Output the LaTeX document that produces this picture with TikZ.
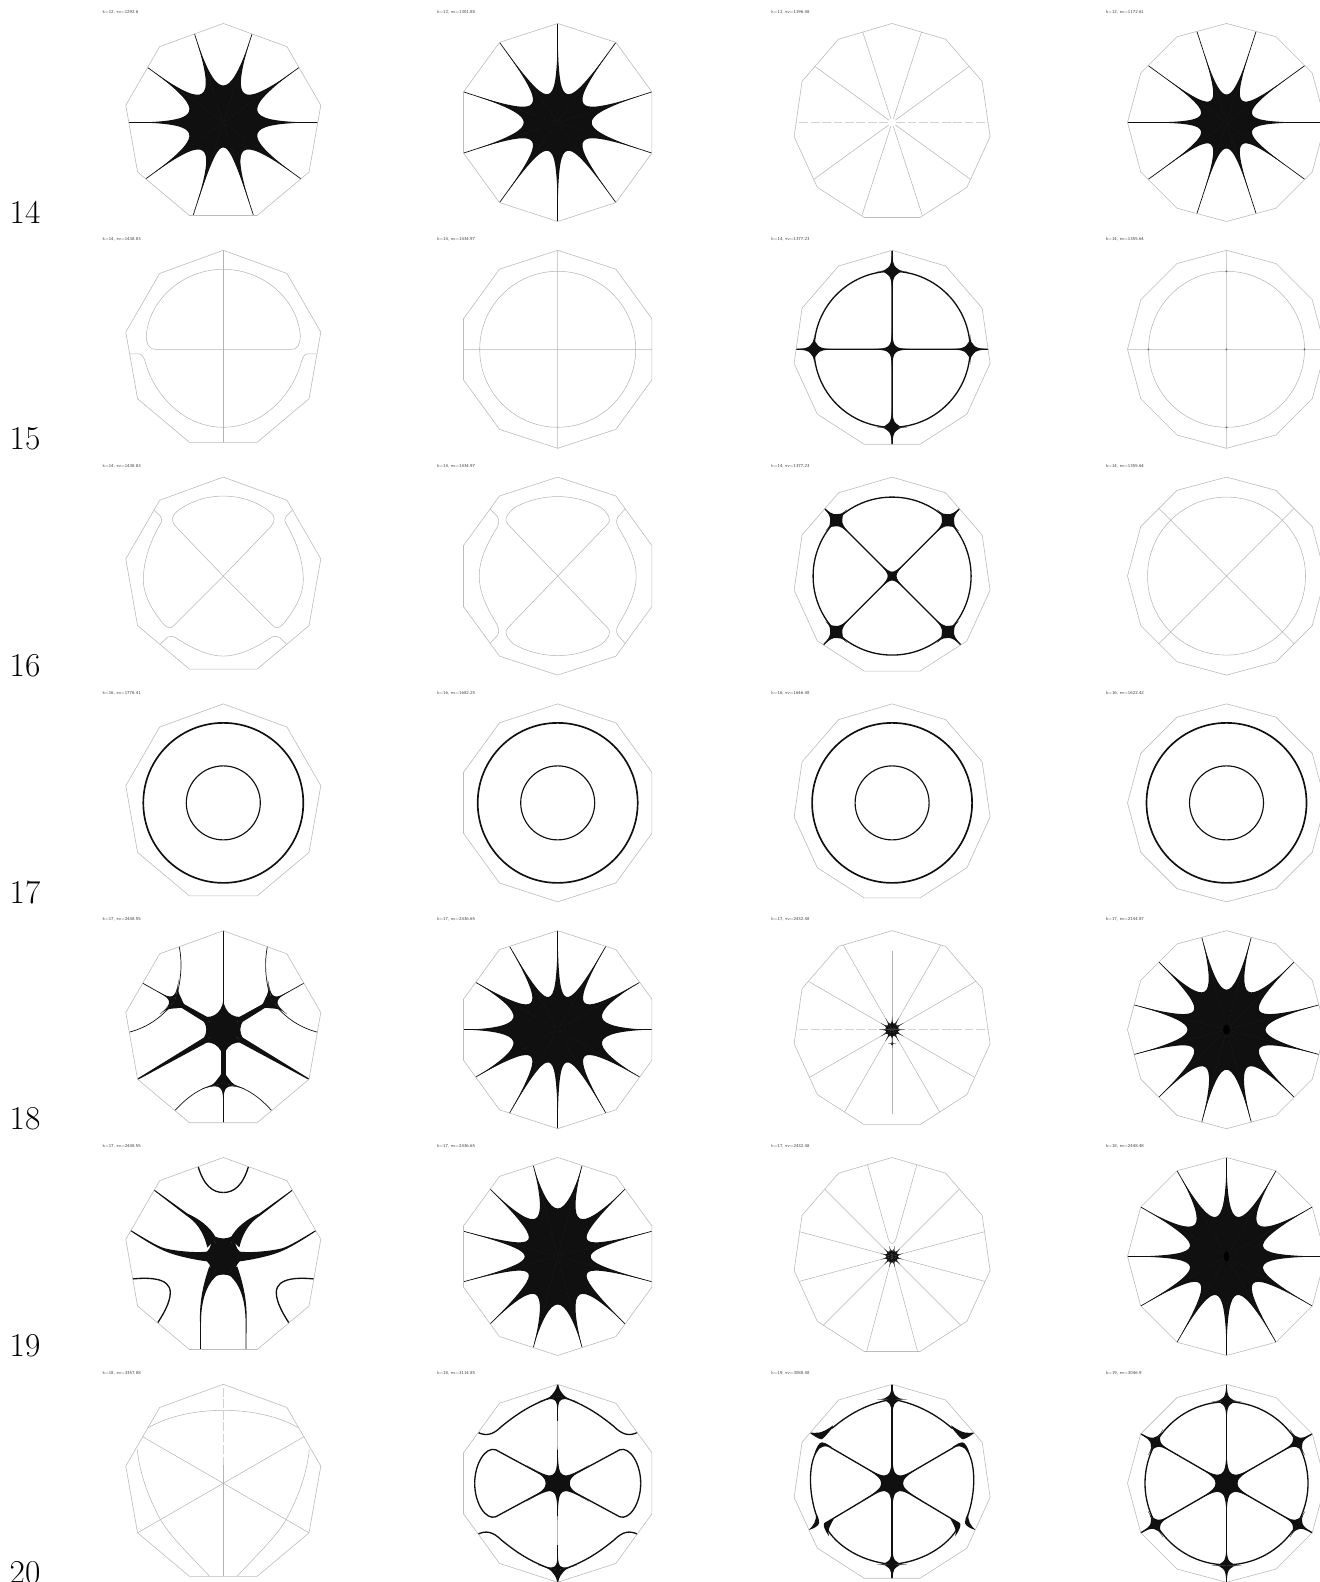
\documentclass[tikz,border=0pt]{standalone}
\usepackage{tikz}
\usetikzlibrary{positioning}
\definecolor{ink}{RGB}{16,16,16}
\definecolor{rimgray}{RGB}{188,188,188}
\definecolor{hairgray}{RGB}{180,180,180}
\tikzset{
  tag/.style={font=\sffamily\fontsize{2.6}{3}\selectfont,anchor=west,inner sep=0pt,text=black!75},
  rowlab/.style={font=\fontsize{19}{19}\selectfont,anchor=base,inner sep=0pt},
  rim/.style={draw=rimgray,line width=0.35pt},
  hair/.style={draw=hairgray,line width=0.3pt},
  faint/.style={draw=hairgray!60,line width=0.3pt,dash pattern=on 5pt off 1.5pt},
  fine/.style={draw=ink,line width=0.4pt},
  bold/.style={draw=ink,line width=0.75pt}
}
\begin{document}
\begin{tikzpicture}[x=0.02cm,y=0.02cm]
\useasboundingbox (0,0) rectangle (1319,1582);
% Helper macro: \lobe{arm}{next arm}{valley radius}{tip of arm}{tip of next arm}
\newcommand{\lobe}[5]{%
  \pgfmathsetmacro{\lobemid}{(#1+#2)/2}
  \pgfmathsetmacro{\lobedlt}{(#2-#1)*0.32}
  \pgfmathsetmacro{\lobeval}{#3/cos(\lobedlt)}
  \fill[ink] (0,0) -- (#1:#4) .. controls ({#1+1}:{#3*1.4}) and ({\lobemid-\lobedlt}:\lobeval)
    .. (\lobemid:#3) .. controls ({\lobemid+\lobedlt}:\lobeval) and ({#2-1}:{#3*1.4}) .. (#2:#5) -- cycle;
}
% Helper macro: \ringstar{centre}{arms}{first arm}{tip radius}{valley radii}
\newcommand{\ringstar}[5]{%
  \begin{scope}[shift={(#1)}]
    \foreach \vrad [count=\k from 0] in {#5} {
      \pgfmathsetmacro{\armA}{#3+\k*360/#2}
      \pgfmathsetmacro{\armB}{\armA+360/#2}
      \lobe{\armA}{\armB}{\vrad}{#4}{#4}
    }
  \end{scope}
}
% Helper macro: \spokes{arms}{first arm}
\newcommand{\spokes}[2]{%
  \foreach \k in {1,...,#1} { \draw[fine] (0,0) -- ({#2+\k*360/#1}:115); }
}
% Helper macro: \jstar{angle}{radius}{valley}: four arms where a spoke meets the ring
\newcommand{\jstar}[3]{%
  \begin{scope}[shift={(#1:#2)},rotate=#1]
    \lobe{0}{90}{#3}{26}{15}
    \lobe{90}{180}{#3}{15}{26}
    \lobe{180}{270}{#3}{26}{15}
    \lobe{270}{360}{#3}{15}{26}
  \end{scope}
}
% Helper macro: \pcell{column}{row}{title}{content}
\newcommand{\pcell}[4]{%
  \pgfmathtruncatemacro{\sides}{9+#1}
  \begin{scope}[shift={(223.3+#1*334.4, 1459.5-#2*226.8)}]
    \node[tag] (tag#1#2) at (-121, 110) {#3};
    \begin{scope}
      \clip (90:99) \foreach \k in {1,...,\sides} { -- ({90+\k*360/\sides}:99) } -- cycle;
      #4
    \end{scope}
    \draw[rim] (90:99) \foreach \k in {1,...,\sides} { -- ({90+\k*360/\sides}:99) } -- cycle;
  \end{scope}
}

% Row 14
\pcell{0}{0}{k=12, ev=1292.6}{\spokes{10}{0}\ringstar{0,0}{10}{0}{84}{36,36,37,36,36,36,35,25,35,36}}
\pcell{1}{0}{k=12, ev=1301.88}{\spokes{10}{18}\ringstar{0,0}{10}{18}{84}{32,30,30,32,34,32,30,30,32,34}}
\pcell{2}{0}{k=12, ev=1196.48}{
  \foreach \a in {36,72,108,144,216,252,288,324} { \draw[hair] (\a:4) -- (\a:115); }
  \draw[faint] (4,0) -- (115,0) (-4,0) -- (-115,0);
}
\pcell{3}{0}{k=12, ev=1172.61}{\spokes{10}{0}\ringstar{0,0}{10}{0}{72}{27,27,28,27,27,27,27,26,27,27}}

% Row 15
\pcell{0}{1}{k=14, ev=1438.83}{
  \draw[hair] (0,-110) -- (0,110);
  \foreach \m in {1,-1} {
    \begin{scope}[xscale=\m]
      \draw[hair] (0,0) -- (68,0) .. controls (75,0) and (77,6) .. (77,14)
        .. controls (74,50) and (40,80) .. (0,80);
      \draw[hair] (95,-4.5) -- (85,-4.5) .. controls (81,-4.5) and (79.5,-8) .. (78,-13)
        .. controls (68,-48) and (38,-78) .. (0,-78);
    \end{scope}
  }
}
\pcell{1}{1}{k=14, ev=1434.97}{
  \draw[hair] (0,0) circle (78) (0,-110) -- (0,110) (-110,0) -- (110,0);
}
\pcell{2}{1}{k=14, ev=1377.23}{
  \draw[bold] (0,0) circle (78) (0,-110) -- (0,110) (-110,0) -- (110,0);
  \ringstar{0,0}{4}{0}{30}{5,5,5,5}
  \foreach \a in {0,90,180,270} { \jstar{\a}{78}{5.5} }
}
\pcell{3}{1}{k=14, ev=1355.64}{
  \draw[hair] (0,0) circle (78) (0,-110) -- (0,110) (-110,0) -- (110,0);
  \foreach \a in {0,90,180,270} { \fill[black!60] (\a:78) circle (1); }
  \fill[black!60] (0,0) circle (1);
}

% Row 16
\pcell{0}{2}{k=14, ev=1438.83}{
  \foreach \m in {1,-1} {
    \begin{scope}[xscale=\m]
      \draw[hair] (0,0) -- (48,50) .. controls (52,55) and (52,60) .. (47,64)
        .. controls (35,74) and (18,80) .. (0,80);
      \draw[hair] (0,0) -- (49,-49) .. controls (52,-53) and (57,-53) .. (63,-44)
        .. controls (74,-30) and (80,-16) .. (80,-4) .. controls (80,15) and (73,35) .. (63,52)
        .. controls (61,55) and (61,58) .. (63,60) -- (75,72);
      \draw[hair] (68,-73) -- (56,-61) .. controls (53,-59.5) and (50,-60) .. (47,-62)
        .. controls (32,-72) and (15,-80) .. (0,-80);
    \end{scope}
  }
}
\pcell{1}{2}{k=14, ev=1434.97}{
  \foreach \m in {1,-1} { \foreach \n in {1,-1} {
    \begin{scope}[xscale=\m,yscale=\n]
      \draw[hair] (0,0) -- (50,52) .. controls (53,55) and (53,60) .. (44,68)
        .. controls (32,75) and (16,79.5) .. (0,79.5);
      \draw[hair] (72,72) -- (60,59) .. controls (58,55) and (59,52) .. (61,48)
        .. controls (72,30) and (78.5,15) .. (78.5,0);
    \end{scope}
  } }
}
\pcell{2}{2}{k=14, ev=1377.23}{
  \draw[bold] (0,0) circle (79) (-110,-110) -- (110,110) (-110,110) -- (110,-110);
  \ringstar{0,0}{4}{45}{28}{4.5,4.5,4.5,4.5}
  \foreach \a in {45,135,225,315} { \jstar{\a}{79}{6} }
}
\pcell{3}{2}{k=14, ev=1355.64}{
  \draw[hair] (0,0) circle (79) (-110,-110) -- (110,110) (-110,110) -- (110,-110);
}

% Row 17
\foreach \c/\t in {0/1776.41,1/1682.25,2/1646.48,3/1622.42} {
  \pcell{\c}{3}{k=16, ev=\t}{
    \draw[draw=ink,line width=0.95pt] (0,0) circle (80);
    \draw[draw=ink,line width=0.65pt] (0,0) circle (37);
  }
}

% Row 18
\pcell{0}{4}{k=17, ev=2448.55}{
  \draw[fine] (0,-110) -- (0,110);
  \ringstar{0,0}{6}{30}{30}{17,17,17,17,17,17}
  \fill[ink] (0,0) circle (15);
  \fill[ink] (-2.7,0) rectangle (2.7,-53);
  \foreach \m in {1,-1} {
    \begin{scope}[xscale=\m]
      \fill[ink] (14,11.6) -- (47.3,30) -- (49.3,26.6) -- (17,6.4) -- cycle;
      \fill[ink] (17,-6.4) -- (90.2,-51.6) -- (89.8,-52.4) -- (14,-11.6) -- cycle;
      \draw[fine] (48.3,28.3) .. controls (43,45) and (40,65) .. (44.5,85);
      \draw[fine] (48.3,28.3) -- (85,49);
      \draw[fine] (48.3,28.3) .. controls (60,15) and (72,3) .. (96,-3);
      \draw[fine] (0,-53.3) .. controls (20,-56) and (35,-65) .. (52,-85);
      \begin{scope}[shift={(48.3,28.3)}]
        \lobe{-40}{30}{6}{20}{20}
        \lobe{30}{100}{6}{20}{22}
        \lobe{100}{210}{7}{22}{20}
        \lobe{210}{320}{7}{20}{20}
      \end{scope}
      \begin{scope}[shift={(0,-53.3)}]
        \lobe{-90}{-15}{6}{22}{22}
        \lobe{-15}{90}{7}{22}{20}
      \end{scope}
    \end{scope}
  }
}
\pcell{1}{4}{k=17, ev=2436.65}{\spokes{12}{0}\ringstar{0,0}{12}{0}{90}{46,38,34,34,38,46,46,38,34,34,38,46}}
\pcell{2}{4}{k=17, ev=2432.48}{
  \foreach \a in {30,60,120,150,210,240,300,330} { \draw[hair] (\a:4) -- (\a:115); }
  \draw[faint] (4,0) -- (115,0) (-4,0) -- (-115,0);
  \draw[hair] (0,79) -- (0,4) (0,-4) -- (0,-84);
  \ringstar{0,0}{12}{0}{13}{6,6,6,6,6,6,6,6,6,6,6,6}
  \ringstar{0,-14}{4}{0}{4}{1,1,1,1}
}
\pcell{3}{4}{k=17, ev=2144.87}{
  \spokes{12}{15}
  \ringstar{0,0}{12}{15}{90}{38,44,40,44,38,39,38,43,40,43,38,39}
  \fill[black] (0,0) ellipse (3.5 and 5);
}

% Row 19
\pcell{0}{5}{k=17, ev=2448.55}{
  \ringstar{0,0}{6}{0}{26}{16,18,16,16,18,16}
  \fill[ink] (0,0) circle (15);
  \foreach \m in {1,-1} {
    \begin{scope}[xscale=\m]
      \fill[ink] (7,18) .. controls (13,30) and (25,38) .. (36,43) -- (72,69)
        -- (72,68) -- (37,41) .. controls (28,35) and (20,26) .. (16,9) -- cycle;
      \fill[ink] (15,5) .. controls (25,3.5) and (45,5) .. (58,8) .. controls (66,10) and (80,19) .. (96,28.5)
        -- (96,27.5) .. controls (80,17) and (66,8) .. (55,4) .. controls (45,0) and (25,-4) .. (15,-5) -- cycle;
      \fill[ink] (14,-10) .. controls (18,-22) and (24,-40) .. (23.3,-65) -- (23,-99) -- (22.4,-99) -- (22.3,-65)
        .. controls (22,-40) and (15,-25) .. (4,-17) -- cycle;
      \draw[bold] (26,93) .. controls (20,70) and (10,64) .. (0,64);
      \draw[bold] (93,-22.7) .. controls (78,-21) and (53,-20) .. (53,-36)
        .. controls (53,-46) and (60,-58) .. (68,-70);
    \end{scope}
  }
}
\pcell{1}{5}{k=17, ev=2436.65}{\spokes{12}{15}\ringstar{0,0}{12}{15}{90}{34,44,48,44,34,33,34,44,48,44,34,33}}
\pcell{2}{5}{k=17, ev=2432.48}{
  \foreach \a in {45,135,165,195,225,255,285,315,345,15} { \draw[hair] (\a:4) -- (\a:115); }
  \foreach \m in {1,-1} {
    \begin{scope}[xscale=\m]
      \draw[hair] (27,100) -- (4,18) .. controls (2.5,13) and (0,13) .. (0,13);
    \end{scope}
  }
  \ringstar{0,0}{12}{15}{11}{5.5,5.5,5.5,5.5,5.5,5.5,5.5,5.5,5.5,5.5,5.5,5.5}
}
\pcell{3}{5}{k=18, ev=2448.48}{
  \spokes{12}{0}
  \ringstar{0,0}{12}{0}{90}{38,45,41,41,45,38,38,38,40,40,38,38}
  \fill[black] (0,0) ellipse (3 and 5);
}

% Row 20
\pcell{0}{6}{k=18, ev=3357.88}{
  \foreach \a in {30,150,210,330,270} { \draw[hair] (0,0) -- (\a:115); }
  \draw[hair] (0,0) -- (0,18);
  \draw[faint] (0,18) -- (0,110);
  \foreach \m in {1,-1} {
    \begin{scope}[xscale=\m]
      \draw[hair] (0,73) .. controls (30,73) and (58,66) .. (76,55);
      \draw[hair] (86,34) .. controls (84,12) and (76,-12) .. (63,-36) .. controls (52,-55) and (30,-75) .. (11,-96);
    \end{scope}
  }
}
\pcell{1}{6}{k=18, ev=3114.85}{
  \draw[bold] (0,-110) -- (0,110);
  \draw[draw=gray!55,line width=0.75pt] (0,62) -- (0,33) (0,-62) -- (0,-33);
  \ringstar{0,0}{6}{30}{36}{10,10,12,10,10,12}
  \foreach \m in {1,-1} { \foreach \n in {1,-1} {
    \begin{scope}[xscale=\m,yscale=\n]
      \draw[bold] (0,0) -- (62,33.5) .. controls (72,37) and (83,20) .. (83,0);
      \draw[bold] (0,88) .. controls (25,80) and (40,70) .. (56,57) .. controls (65,48) and (72,47) .. (80,51);
      \begin{scope}[shift={(0,87)}]
        \lobe{-15}{90}{5.5}{20}{22}
        \lobe{-90}{-15}{5}{22}{20}
      \end{scope}
    \end{scope}
  } }
}
\pcell{2}{6}{k=19, ev=3088.48}{
  \draw[bold] (0,-110) -- (0,110);
  \ringstar{0,0}{6}{30}{35}{10,10,11,10,10,11}
  \jstar{90}{84}{5}
  \jstar{270}{81}{5}
  \foreach \m in {1,-1} {
    \begin{scope}[xscale=\m]
      \draw[bold] (0,0) -- (67,39);
      \draw[bold] (0,0) -- (67,-40);
      \draw[bold] (0,84) .. controls (25,80) and (45,68) .. (60,55);
      \draw[bold] (74,34) .. controls (84,22) and (84,-10) .. (75,-34);
      \draw[bold] (67,-40) .. controls (65,-52) and (40,-78) .. (0,-81);
      % hooks where the arcs end
      \fill[ink] (83,51) .. controls (76,50) and (71,49) .. (59,58) -- (60,55)
        .. controls (66,48) and (69,44) .. (71,44) .. controls (75,45) and (79,48) .. (83,51) -- cycle;
      \fill[ink] (60,36) .. controls (66,40) and (68,41) .. (70,41)
        .. controls (73,41) and (76,36) .. (78,28) .. controls (75,34) and (70,37) .. (67,37) -- cycle;
      \fill[ink] (76,-30) .. controls (76,-38) and (78,-42) .. (84,-47)
        .. controls (78,-45) and (74,-43) .. (73,-40) .. controls (73,-36) and (74,-33) .. (76,-30) -- cycle;
      \fill[ink] (58,-35) -- (68,-40) .. controls (69,-42) and (68,-46) .. (63,-53)
        .. controls (65,-48) and (63,-44) .. (58,-35) -- cycle;
    \end{scope}
  }
}
\pcell{3}{6}{k=19, ev=3046.9}{
  \draw[bold] (0,0) circle (81.5);
  \draw[bold] (0,-110) -- (0,110);
  \foreach \a in {30,150,210,330} { \draw[bold] (0,0) -- (\a:110); }
  \ringstar{0,0}{6}{30}{36}{11,11,11,11,11,11}
  \foreach \a in {30,90,150,210,270,330} { \jstar{\a}{82}{5} }
}

% Row labels
\foreach \i/\name in {0/14,1/15,2/16,3/17,4/18,5/19,6/20} {
  \node[rowlab] (row\name) at (25, {1582-223.2-\i*226.7}) {\name};
}
\end{tikzpicture}
\end{document}
